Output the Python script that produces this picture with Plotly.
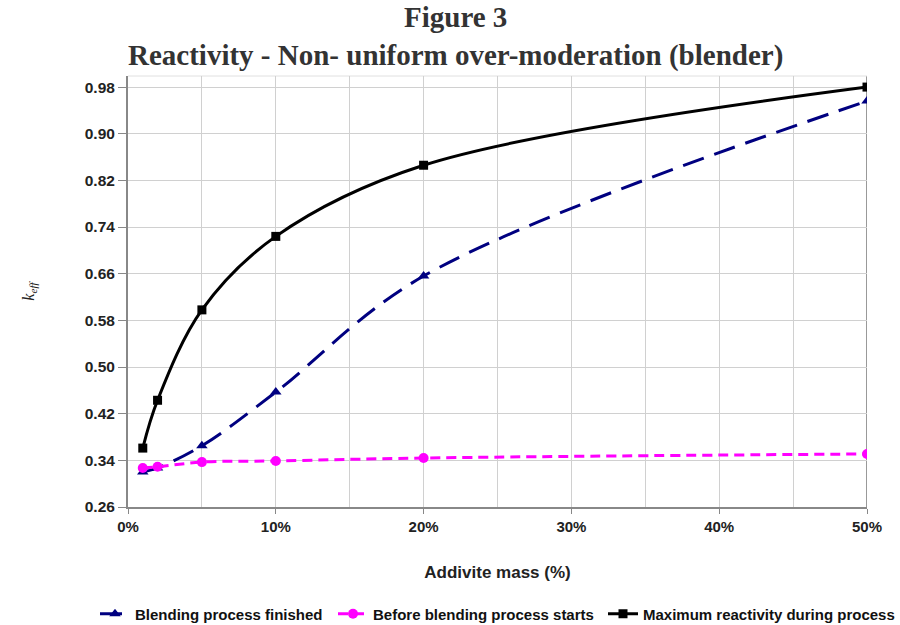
import plotly.graph_objects as go

x_mass = [1, 2, 5, 10, 20, 50]
blend_finished = [0.320, 0.327, 0.365, 0.457, 0.656, 0.956]
before_blend = [0.327, 0.329, 0.337, 0.339, 0.344, 0.351]
max_reactivity = [0.361, 0.443, 0.598, 0.724, 0.846, 0.980]

y_ticks = [0.26, 0.34, 0.42, 0.50, 0.58, 0.66, 0.74, 0.82, 0.90, 0.98]
x_ticks = [0, 10, 20, 30, 40, 50]
x_ticklabels = ["0%", "10%", "20%", "30%", "40%", "50%"]

fig = go.Figure()
fig.add_trace(go.Scatter(
    x=x_mass, y=blend_finished, name="<b>Blending process finished</b>",
    mode="lines+markers", legend="legend",
    line=dict(color="#000080", width=3, dash="22px,11px", shape="spline", smoothing=1),
    marker=dict(symbol="triangle-up", size=10, color="#000080"),
))
fig.add_trace(go.Scatter(
    x=x_mass, y=before_blend, name="<b>Before blending process starts</b>",
    mode="lines+markers", legend="legend2",
    line=dict(color="#FF00FF", width=3, dash="10px,6px", shape="spline", smoothing=1),
    marker=dict(symbol="circle", size=10, color="#FF00FF"),
))
fig.add_trace(go.Scatter(
    x=x_mass, y=max_reactivity, name="<b>Maximum reactivity during process</b>",
    mode="lines+markers", legend="legend3",
    line=dict(color="black", width=3, shape="spline", smoothing=1),
    marker=dict(symbol="square", size=9, color="black"),
))

legend_y = 1 - 614 / 625


def leg(text_start):
    return dict(
        orientation="h", xref="container", x=(text_start - 40) / 900, xanchor="left",
        yref="container", y=legend_y, yanchor="middle",
        font=dict(family="Liberation Sans", size=15, color="#111111"),
        itemwidth=30, bgcolor="rgba(0,0,0,0)",
    )


fig.update_layout(
    width=900, height=625,
    margin=dict(l=128, r=33, t=76, b=118, autoexpand=False),
    paper_bgcolor="white", plot_bgcolor="white",
    font=dict(family="Liberation Sans", color="#222222"),
    showlegend=True,
    legend=leg(135), legend2=leg(373), legend3=leg(643),
    xaxis=dict(
        range=[0, 50], tickvals=x_ticks, ticktext=[f"<b>{t}</b>" for t in x_ticklabels],
        tickfont=dict(family="Liberation Sans", size=15, color="#222222"),
        showgrid=True, gridcolor="#d0d0d0", gridwidth=1,
        minor=dict(dtick=5, showgrid=True, gridcolor="#d0d0d0", gridwidth=1),
        showline=True, linecolor="#888888", linewidth=2,
        ticks="outside", ticklen=5, tickcolor="#888888",
        zeroline=False, automargin=False,
        title=dict(text="<b>Addivite mass (%)</b>",
                   font=dict(family="Liberation Sans", size=17, color="#222222"), standoff=32),
    ),
    yaxis=dict(
        range=[0.26, 0.999], tickvals=y_ticks, ticktext=[f"<b>{v:.2f}</b>" for v in y_ticks],
        tickfont=dict(family="Liberation Sans", size=15.5, color="#222222"),
        showgrid=True, gridcolor="#d0d0d0", gridwidth=1,
        showline=True, linecolor="#888888", linewidth=2,
        ticks="outside", ticklen=8, tickcolor="#888888",
        zeroline=False, automargin=False,
        title=dict(text="<i>k<sub>eff</sub></i>",
                   font=dict(family="Liberation Serif", size=16, color="#222222"), standoff=46),
    ),
)

title_x = (455 - 128) / 739
fig.add_annotation(text="<b>Figure 3</b>", xref="paper", yref="paper",
                   x=title_x, y=1 + (76 - 17) / 431, yanchor="middle", showarrow=False,
                   font=dict(family="Liberation Serif", size=29, color="#333333"))
fig.add_annotation(text="<b>Reactivity - Non- uniform over-moderation (blender)</b>",
                   xref="paper", yref="paper",
                   x=title_x, y=1 + (76 - 55) / 431, yanchor="middle", showarrow=False,
                   font=dict(family="Liberation Serif", size=29, color="#333333"))

# right border line at 50%
fig.add_shape(type="line", xref="x", yref="paper", x0=50, x1=50, y0=0, y1=1,
              line=dict(color="#999999", width=2), layer="below")
fig.add_shape(type="line", xref="paper", yref="paper", x0=0, x1=1, y0=1, y1=1,
              line=dict(color="#e0e0e0", width=1), layer="below")

fig.write_html("out.html")
